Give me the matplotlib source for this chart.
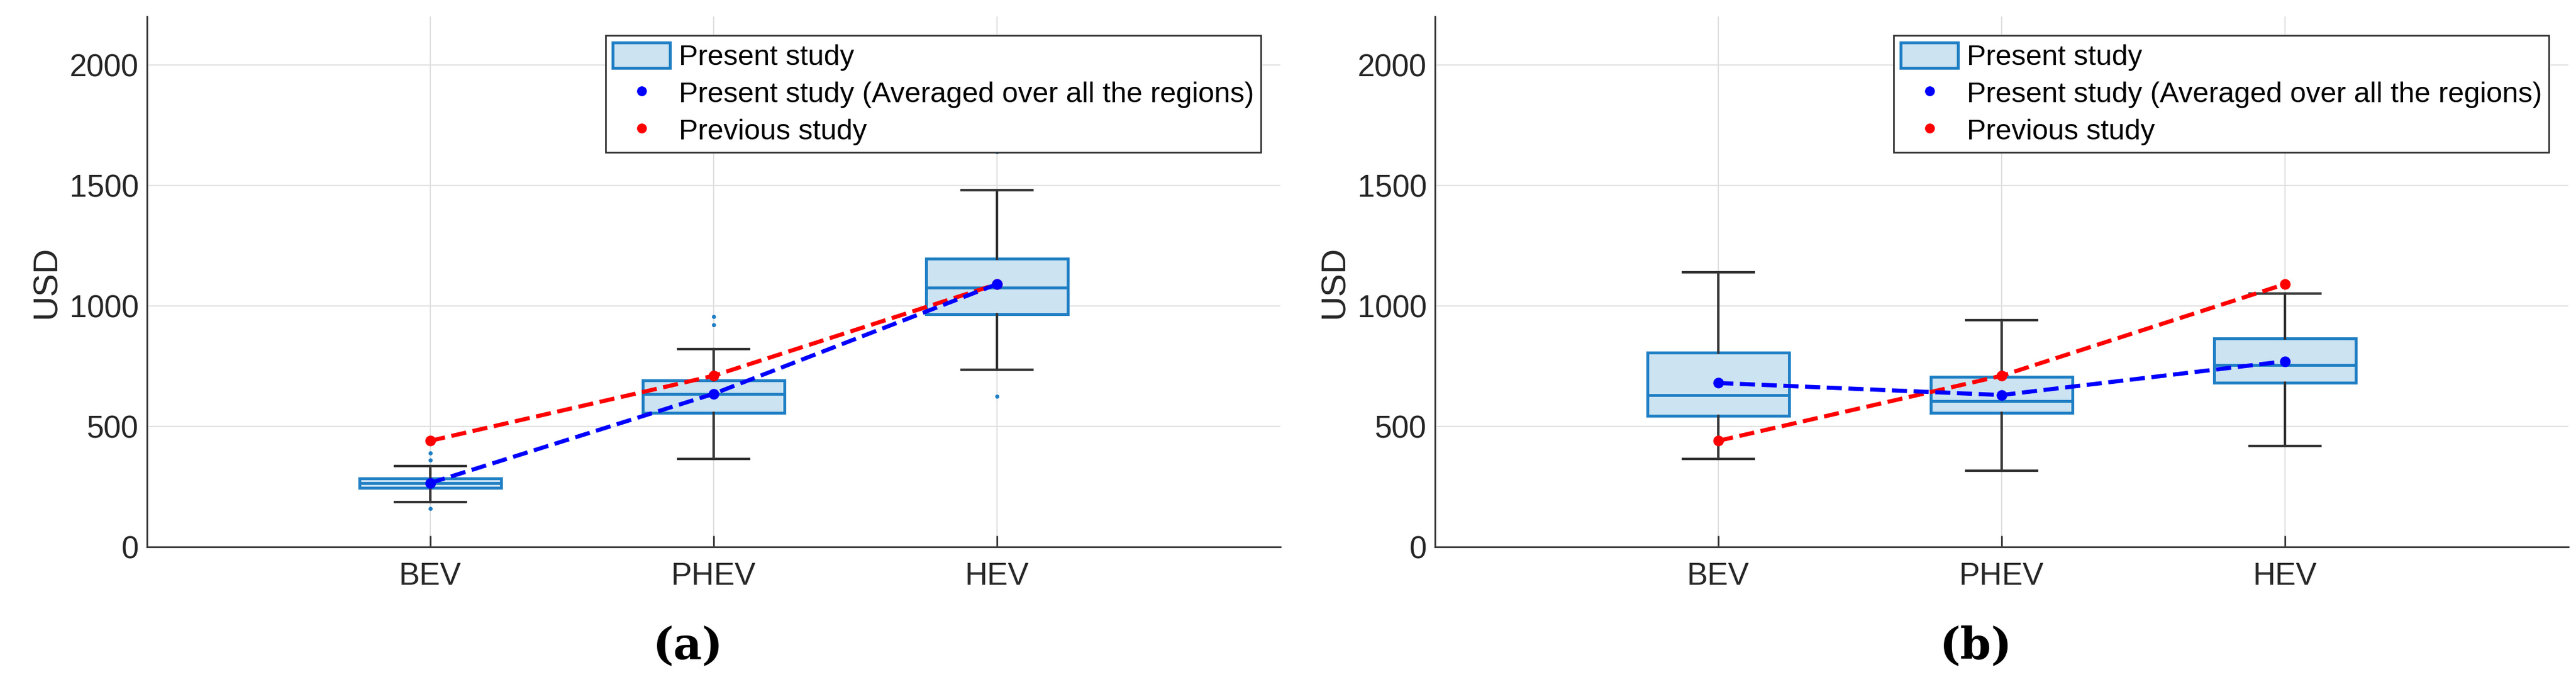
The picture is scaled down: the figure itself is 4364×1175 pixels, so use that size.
import matplotlib
matplotlib.use("Agg")
import matplotlib.pyplot as plt
from matplotlib.patches import Patch
from matplotlib.lines import Line2D

categories = ["BEV", "PHEV", "HEV"]
# panel a
a_q1 = [245, 555, 965]; a_med = [265, 635, 1075]; a_q3 = [285, 690, 1195]
a_wlo = [185, 365, 735]; a_whi = [335, 820, 1480]
a_fliers = [[160, 360, 390], [920, 955], [625, 1640]]
a_mean = [265, 635, 1090]; a_prev = [440, 710, 1090]
# panel b
b_q1 = [545, 555, 680]; b_med = [630, 605, 755]; b_q3 = [805, 705, 865]
b_wlo = [365, 315, 420]; b_whi = [1140, 940, 1050]
b_fliers = [[], [], []]
b_mean = [680, 630, 770]; b_prev = [440, 710, 1090]

plt.rcParams['font.family'] = ['Liberation Sans', 'DejaVu Sans']
fig = plt.figure(figsize=(43.64, 11.75), dpi=100)
edge = '#1f7fc4'; fill = '#cce3f2'

def panel(rect, q1, med, q3, wlo, whi, fl, mean, prev, label):
    ax = fig.add_axes(rect)
    stats = [dict(q1=q1[i], med=med[i], q3=q3[i], whislo=wlo[i], whishi=whi[i], fliers=fl[i]) for i in range(3)]
    ax.bxp(stats, positions=[1, 2, 3], widths=0.5, patch_artist=True, showfliers=True,
           boxprops=dict(facecolor=fill, edgecolor=edge, linewidth=3.5),
           medianprops=dict(color=edge, linewidth=3.5),
           whiskerprops=dict(color='#333333', linewidth=3),
           capprops=dict(color='#333333', linewidth=3), capwidths=0.25,
           flierprops=dict(marker='o', markersize=4, markerfacecolor=edge, markeredgecolor=edge))
    ax.plot([1, 2, 3], prev, '--', color='red', lw=5, marker='o', markersize=12, zorder=5)
    ax.plot([1, 2, 3], mean, '--', color='blue', lw=5, marker='o', markersize=12, zorder=6)
    ax.set_xlim(0, 4); ax.set_ylim(0, 2200)
    ax.set_xticks([1, 2, 3]); ax.set_xticklabels(categories)
    ax.set_yticks([0, 500, 1000, 1500, 2000])
    ax.grid(True, color='#e0e0e0', lw=1.5)
    ax.set_axisbelow(True)
    for s in ['top', 'right']:
        ax.spines[s].set_visible(False)
    for s in ['left', 'bottom']:
        ax.spines[s].set_color('#333333'); ax.spines[s].set_linewidth(2)
    ax.tick_params(labelsize=38, length=14, width=2, color='#333333', labelcolor='#262626', direction='in', pad=18)
    ax.tick_params(axis='y', direction='out', length=0, pad=10)
    ax.set_ylabel('USD', fontsize=42, color='#262626', labelpad=8)
    handles = [Patch(facecolor=fill, edgecolor=edge, linewidth=3.5),
               Line2D([], [], ls='', marker='o', color='blue', markersize=11),
               Line2D([], [], ls='', marker='o', color='red', markersize=11)]
    leg = ax.legend(handles, ['Present study', 'Present study (Averaged over all the regions)', 'Previous study'],
                    loc='upper right', bbox_to_anchor=(0.983, 0.965), fontsize=35, fancybox=False,
                    edgecolor='#333333', framealpha=1, borderaxespad=0, handlelength=2.0,
                    handleheight=1.0, handletextpad=0.3, labelspacing=0.3, borderpad=0.25)
    leg.get_frame().set_linewidth(2)
    fig.text(rect[0] + rect[2] / 2 - 0.01, 0.068, label, fontsize=54, family='DejaVu Serif',
             weight='bold', ha='center', va='center')

panel([0.057, 0.212, 0.44, 0.764], a_q1, a_med, a_q3, a_wlo, a_whi, a_fliers, a_mean, a_prev, '(a)')
panel([0.557, 0.212, 0.44, 0.764], b_q1, b_med, b_q3, b_wlo, b_whi, b_fliers, b_mean, b_prev, '(b)')
fig.savefig('out.png', dpi=100)
